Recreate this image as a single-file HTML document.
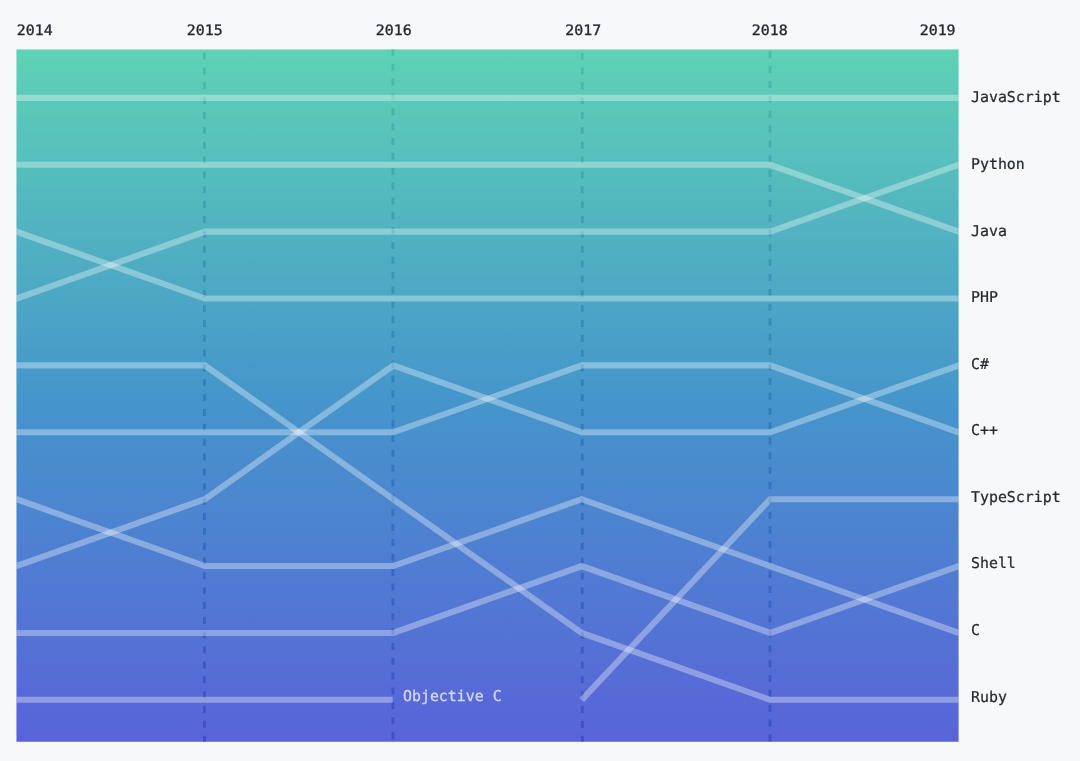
<!DOCTYPE html>
<html lang="en"><head><meta charset="utf-8"><title>Top languages over time</title>
<style>
html,body{margin:0;padding:0;background:#f6f8fa;}
body{width:1080px;height:761px;overflow:hidden;}
svg{display:block;}
text{text-rendering:geometricPrecision;font-family:"DejaVu Sans Mono","Liberation Mono",monospace;font-size:14.9px;fill:#24292e;}
.yr text{font-size:14.9px;stroke:#24292e;stroke-width:.35;}
.lb text{stroke:#24292e;stroke-width:.22;}
.ln polyline{fill:none;stroke:#fff;stroke-opacity:.34;stroke-width:6.1;stroke-linejoin:miter;stroke-linecap:butt;}
.ds line{stroke:url(#gd);stroke-width:2.9;stroke-dasharray:7 7.85;}
</style></head><body>
<svg width="1080" height="761" viewBox="0 0 1080 761">
<defs><linearGradient id="g" x1="0" y1="0" x2="0" y2="1">
<stop offset="0" stop-color="#5fd2b5"/><stop offset="0.5" stop-color="#4596cb"/><stop offset="1" stop-color="#5a63d9"/>
</linearGradient>
<linearGradient id="gd" gradientUnits="userSpaceOnUse" x1="0" y1="49.45" x2="0" y2="741.75">
<stop offset="0" stop-color="#4cbfa6"/><stop offset="0.5" stop-color="#3080bb"/><stop offset="1" stop-color="#404fc6"/>
</linearGradient>
<clipPath id="cp"><rect x="16.45" y="49.45" width="942.15" height="692.3"/></clipPath></defs>
<rect x="0" y="0" width="1080" height="761" fill="#f6f8fa"/>
<rect x="16.45" y="49.45" width="942.15" height="692.3" fill="url(#g)"/>
<g class="ds" clip-path="url(#cp)"><line x1="204.40" y1="52.6" x2="204.40" y2="741.75"/><line x1="392.90" y1="48.9" x2="392.90" y2="741.75"/><line x1="582.30" y1="52.65" x2="582.30" y2="741.75"/><line x1="770.00" y1="51.3" x2="770.00" y2="741.75"/></g>
<g class="ln" clip-path="url(#cp)"><polyline points="10.45,97.90 16.45,97.90 204.88,97.90 393.31,97.90 581.74,97.90 770.17,97.90 958.60,97.90 964.60,97.90"/><polyline points="10.45,300.67 16.45,298.54 204.88,231.66 393.31,231.66 581.74,231.66 770.17,231.66 958.60,164.78 964.60,162.65"/><polyline points="10.45,164.78 16.45,164.78 204.88,164.78 393.31,164.78 581.74,164.78 770.17,164.78 958.60,231.66 964.60,233.79"/><polyline points="10.45,229.53 16.45,231.66 204.88,298.54 393.31,298.54 581.74,298.54 770.17,298.54 958.60,298.54 964.60,298.54"/><polyline points="10.45,568.19 16.45,566.06 204.88,499.18 393.31,365.42 581.74,432.30 770.17,432.30 958.60,365.42 964.60,363.29"/><polyline points="10.45,432.30 16.45,432.30 204.88,432.30 393.31,432.30 581.74,365.42 770.17,365.42 958.60,432.30 964.60,434.43"/><polyline points="581.74,699.82 770.17,499.18 958.60,499.18 964.60,499.18"/><polyline points="10.45,632.94 16.45,632.94 204.88,632.94 393.31,632.94 581.74,566.06 770.17,632.94 958.60,566.06 964.60,563.93"/><polyline points="10.45,497.05 16.45,499.18 204.88,566.06 393.31,566.06 581.74,499.18 770.17,566.06 958.60,632.94 964.60,635.07"/><polyline points="10.45,365.42 16.45,365.42 204.88,365.42 393.31,499.18 581.74,632.94 770.17,699.82 958.60,699.82 964.60,699.82"/><polyline points="10.45,699.82 16.45,699.82 204.88,699.82 392.60,699.82"/></g>
<g class="yr"><text transform="translate(16.75,34.6) scale(1,0.96)" text-anchor="start">2014</text><text transform="translate(204.73,34.6) scale(1,0.96)" text-anchor="middle">2015</text><text transform="translate(393.81,34.6) scale(1,0.96)" text-anchor="middle">2016</text><text transform="translate(583.24,34.6) scale(1,0.96)" text-anchor="middle">2017</text><text transform="translate(769.77,34.6) scale(1,0.96)" text-anchor="middle">2018</text><text transform="translate(955.60,34.6) scale(1,0.96)" text-anchor="end">2019</text></g>
<g class="lb"><text x="971" y="102">JavaScript</text><text x="971" y="169">Python</text><text x="971" y="236">Java</text><text x="971" y="302">PHP</text><text x="971" y="369">C#</text><text x="971" y="435">C++</text><text x="971" y="502">TypeScript</text><text x="971" y="568">Shell</text><text x="971" y="635">C</text><text x="971" y="702">Ruby</text></g>
<text x="403" y="701" style="fill:#fff;fill-opacity:.7;stroke:#fff;stroke-opacity:.7;stroke-width:.25">Objective C</text>
</svg>
</body></html>
